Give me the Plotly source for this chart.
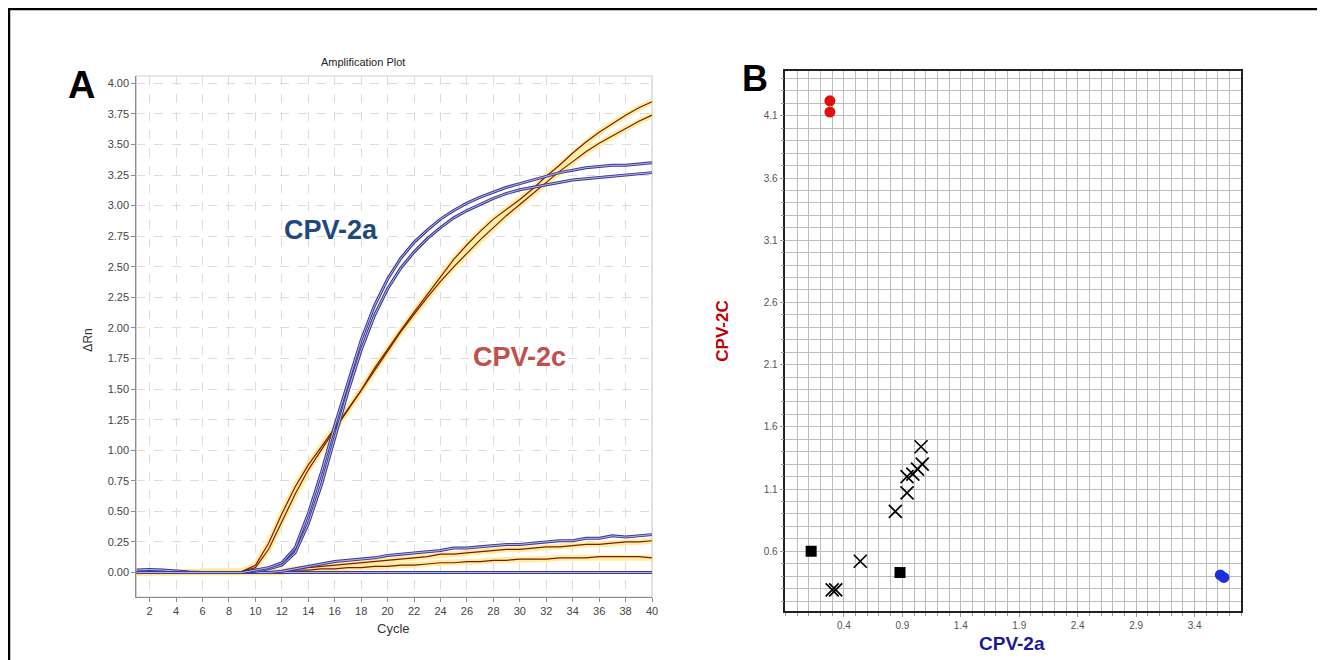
import plotly.graph_objects as go

# ---------------- Panel A data (Amplification plot) ----------------
cycles = list(range(1, 41))

cpv2a_high_1 = [0.0, 0.0, 0.0, 0.0, 0.0, 0.0, 0.0, 0.0, 0.0, 0.02, 0.04, 0.08, 0.20, 0.48, 0.82, 1.20, 1.55, 1.90, 2.18, 2.40,
                2.57, 2.70, 2.80, 2.89, 2.96, 3.02, 3.07, 3.11, 3.15, 3.18, 3.21, 3.24, 3.27, 3.29, 3.31, 3.32, 3.33, 3.33, 3.34, 3.35]
cpv2a_high_2 = [0.0, 0.0, 0.0, 0.0, 0.0, 0.0, 0.0, 0.0, 0.0, 0.01, 0.03, 0.06, 0.16, 0.40, 0.72, 1.10, 1.48, 1.82, 2.10, 2.32,
                2.49, 2.62, 2.73, 2.82, 2.90, 2.96, 3.01, 3.06, 3.10, 3.13, 3.15, 3.17, 3.19, 3.21, 3.22, 3.23, 3.24, 3.25, 3.26, 3.27]
cpv2a_low = [0.0, 0.0, 0.0, 0.0, 0.0, 0.0, 0.0, 0.0, 0.0, 0.0, 0.0, 0.01, 0.03, 0.05, 0.07, 0.09, 0.10, 0.11, 0.12, 0.14,
             0.15, 0.16, 0.17, 0.18, 0.20, 0.20, 0.21, 0.22, 0.23, 0.23, 0.24, 0.25, 0.26, 0.26, 0.28, 0.28, 0.30, 0.29, 0.30, 0.31]
cpv2a_flat = [0.02, 0.025, 0.02, 0.01, 0.005, 0.0, 0.0, 0.0, 0.0, 0.0, 0.0, 0.0, 0.0, 0.0, 0.0, 0.0, 0.0, 0.0, 0.0, 0.0,
              0.0, 0.0, 0.0, 0.0, 0.0, 0.0, -0.005, 0.0, 0.0, 0.0, 0.0, 0.0, 0.0, 0.0, 0.0, 0.0, -0.005, 0.0, 0.0, 0.0]

cpv2c_high_1 = [0.0, 0.0, 0.0, 0.0, 0.0, 0.0, 0.0, 0.0, 0.01, 0.06, 0.24, 0.48, 0.70, 0.88, 1.03, 1.18, 1.33, 1.49, 1.67, 1.83,
                1.98, 2.13, 2.27, 2.42, 2.56, 2.68, 2.79, 2.89, 2.97, 3.05, 3.14, 3.24, 3.33, 3.43, 3.52, 3.60, 3.67, 3.74, 3.80, 3.85]
cpv2c_high_2 = [0.0, 0.0, 0.0, 0.0, 0.0, 0.0, 0.0, 0.0, 0.01, 0.04, 0.19, 0.42, 0.64, 0.84, 1.01, 1.17, 1.33, 1.49, 1.66, 1.82,
                1.97, 2.11, 2.25, 2.38, 2.50, 2.61, 2.72, 2.82, 2.92, 3.01, 3.10, 3.19, 3.28, 3.36, 3.44, 3.51, 3.57, 3.63, 3.69, 3.74]
cpv2c_low_1 = [0.0, 0.0, 0.0, 0.0, 0.0, 0.0, 0.0, 0.0, 0.0, 0.0, 0.0, 0.01, 0.03, 0.04, 0.05, 0.06, 0.07, 0.08, 0.09, 0.10,
               0.11, 0.12, 0.13, 0.15, 0.15, 0.16, 0.17, 0.18, 0.19, 0.19, 0.20, 0.21, 0.21, 0.22, 0.23, 0.23, 0.24, 0.25, 0.25, 0.26]
cpv2c_low_2 = [0.0, 0.0, 0.0, 0.0, 0.0, 0.0, 0.0, 0.0, 0.0, 0.0, 0.0, 0.0, 0.02, 0.02, 0.03, 0.03, 0.04, 0.04, 0.05, 0.05,
               0.06, 0.06, 0.07, 0.08, 0.08, 0.09, 0.09, 0.10, 0.10, 0.11, 0.11, 0.11, 0.12, 0.12, 0.12, 0.13, 0.13, 0.13, 0.13, 0.12]

a_xticks = list(range(2, 41, 2))

# ---------------- Panel B data (allelic discrimination) ----------------
red_x = [0.28, 0.28]
red_y = [4.22, 4.13]
blue_x = [3.62, 3.65]
blue_y = [0.41, 0.39]
square_x = [0.12, 0.88]
square_y = [0.60, 0.43]
cross_x = [0.30, 0.33, 0.54, 0.84, 0.94, 0.94, 0.99, 1.03, 1.07, 1.06]
cross_y = [0.29, 0.29, 0.52, 0.92, 1.07, 1.20, 1.22, 1.26, 1.30, 1.44]

b_xticks = [0.4, 0.9, 1.4, 1.9, 2.4, 2.9, 3.4]
b_yticks = [0.6, 1.1, 1.6, 2.1, 2.6, 3.1, 3.6, 4.1]

# page body has an 8px margin: size the figure to fit and offset pixel targets
OFF = 8
W, H = 1325 - OFF, 660 - OFF
FONT = "Liberation Sans, Arial, sans-serif"

fig = go.Figure()

# Panel A: orange (CPV-2c) curves - yellow halo + dark red core
orange_series = [cpv2c_low_2, cpv2c_low_1, cpv2c_high_2, cpv2c_high_1]
for s in orange_series:
    fig.add_trace(go.Scatter(x=cycles, y=s, mode="lines", xaxis="x", yaxis="y",
                             line=dict(color="rgba(255,232,140,0.8)", width=6), hoverinfo="skip", showlegend=False))
for s in orange_series:
    fig.add_trace(go.Scatter(x=cycles, y=s, mode="lines", xaxis="x", yaxis="y",
                             line=dict(color="#7f1a06", width=1.2), showlegend=False))

# Panel A: blue (CPV-2a) curves - navy outline + light core
blue_series = [cpv2a_flat, cpv2a_low, cpv2a_high_2, cpv2a_high_1]
for s in blue_series:
    fig.add_trace(go.Scatter(x=cycles, y=s, mode="lines", xaxis="x", yaxis="y",
                             line=dict(color="#3a3a92", width=3.0), showlegend=False))
    fig.add_trace(go.Scatter(x=cycles, y=s, mode="lines", xaxis="x", yaxis="y",
                             line=dict(color="#c4c4f4", width=0.9), hoverinfo="skip", showlegend=False))

# Panel B markers
fig.add_trace(go.Scatter(x=red_x, y=red_y, mode="markers", xaxis="x2", yaxis="y2",
                         marker=dict(symbol="circle", size=11, color="#e01010"), showlegend=False))
fig.add_trace(go.Scatter(x=blue_x, y=blue_y, mode="markers", xaxis="x2", yaxis="y2",
                         marker=dict(symbol="circle", size=11, color="#1a2fe0"), showlegend=False))
fig.add_trace(go.Scatter(x=square_x, y=square_y, mode="markers", xaxis="x2", yaxis="y2",
                         marker=dict(symbol="square", size=11, color="black"), showlegend=False))
fig.add_trace(go.Scatter(x=cross_x, y=cross_y, mode="markers", xaxis="x2", yaxis="y2",
                         marker=dict(symbol="x-thin", size=13, line=dict(color="black", width=1.7)),
                         showlegend=False))

# screen-pixel -> paper conversions
def px_x(p):
    return (p - OFF) / W

def px_y(p):
    return 1 - (p - OFF) / H

a_dom_x = [px_x(137), px_x(655)]
a_dom_y = [px_y(597), px_y(76)]
b_dom_x = [px_x(789), px_x(1247)]
b_dom_y = [px_y(611), px_y(71)]

fig.update_layout(
    width=W, height=H,
    margin=dict(l=0, r=0, t=0, b=0),
    paper_bgcolor="white", plot_bgcolor="white",
    font=dict(family=FONT, color="#333"),
    xaxis=dict(domain=a_dom_x, range=[1, 40], tickmode="array", tickvals=a_xticks,
               showgrid=True, gridcolor="#dcdcdc", griddash="dash", gridwidth=1,
               showline=True, linecolor="#8c8c8c", linewidth=1.3, ticks="outside", ticklen=4,
               tickcolor="#8c8c8c", tickfont=dict(size=11, color="#444"), zeroline=False, anchor="y"),
    yaxis=dict(domain=a_dom_y, range=[-0.2, 4.06], tickmode="linear", tick0=0, dtick=0.25,
               tickformat=".2f", showgrid=True, gridcolor="#dcdcdc", griddash="dash", gridwidth=1,
               showline=True, linecolor="#8c8c8c", linewidth=1.3, ticks="outside", ticklen=4,
               tickcolor="#8c8c8c", tickfont=dict(size=11, color="#444"), zeroline=False, anchor="x"),
    xaxis2=dict(domain=b_dom_x, range=[-0.1, 3.8], tickmode="array", tickvals=b_xticks,
                tickformat=".1f", showgrid=True, gridcolor="#bdbdbd", gridwidth=1,
                minor=dict(tickmode="linear", tick0=0, dtick=0.1, showgrid=True, gridcolor="#bdbdbd",
                           gridwidth=1, ticks="outside", ticklen=3, tickcolor="#999"),
                showline=True, linecolor="#222", linewidth=1.5, mirror=True, ticks="outside", ticklen=4,
                tickcolor="#999", tickfont=dict(size=10, color="#555"), zeroline=False, anchor="y2"),
    yaxis2=dict(domain=b_dom_y, range=[0.12, 4.46], tickmode="array", tickvals=b_yticks,
                tickformat=".1f", showgrid=True, gridcolor="#bdbdbd", gridwidth=1,
                minor=dict(tickmode="linear", tick0=0, dtick=0.1, showgrid=True, gridcolor="#bdbdbd",
                           gridwidth=1, ticks="outside", ticklen=3, tickcolor="#999"),
                showline=True, linecolor="#222", linewidth=1.5, mirror=True, ticks="outside", ticklen=4,
                tickcolor="#999", tickfont=dict(size=10, color="#555"), zeroline=False, anchor="x2"),
)

# light frame on top/right of panel A
fig.add_shape(type="rect", xref="x domain", yref="y domain", x0=0, x1=1, y0=0, y1=1,
              line=dict(color="#cfcfcf", width=1.2), layer="below")

# outer border (top and left)
fig.add_shape(type="line", xref="paper", yref="paper", x0=0, x1=1.0, y0=px_y(9), y1=px_y(9),
              line=dict(color="black", width=2.5))
fig.add_shape(type="line", xref="paper", yref="paper", x0=px_x(9), x1=px_x(9), y0=px_y(9), y1=0,
              line=dict(color="black", width=2.5))

def ann(text, x, y, size, color, bold=False, angle=0):
    fig.add_annotation(text=f"<b>{text}</b>" if bold else text, x=px_x(x), y=px_y(y),
                       xref="paper", yref="paper", showarrow=False, textangle=angle,
                       font=dict(size=size, color=color, family=FONT), xanchor="center", yanchor="middle")

ann("Amplification Plot", 365, 62, 11, "#222")
ann("ΔRn", 88, 340, 12, "#333", angle=-90)
ann("Cycle", 395, 628, 13, "#333")
ann("A", 82, 85, 38, "black", bold=True)
ann("B", 758, 78, 36, "black", bold=True)
ann("CPV-2a", 332, 230, 27, "#1f497d", bold=True)
ann("CPV-2c", 522, 357, 27, "#c0504d", bold=True)
ann("CPV-2C", 725, 331, 17, "#c00000", bold=True, angle=-90)
ann("CPV-2a", 1017, 643, 19, "#1a1a96", bold=True)

fig.write_html("out.html")
